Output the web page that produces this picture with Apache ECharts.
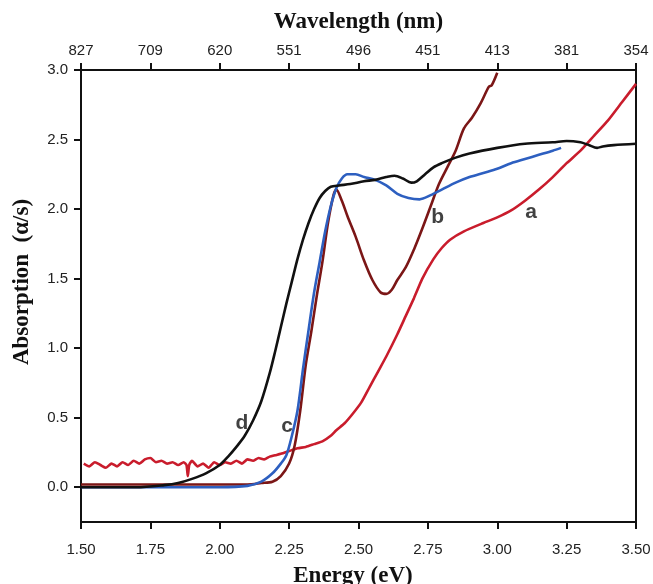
<!DOCTYPE html>
<html>
<head>
<meta charset="utf-8">
<script src="https://cdn.jsdelivr.net/npm/echarts@6/dist/echarts.min.js"></script>
<style>
  html, body { margin: 0; padding: 0; background: #fff; }
  #chart { width: 653px; height: 584px; }
</style>
</head>
<body>
<div id="chart"></div>
<script>
// Energy axis ticks (eV) and the matching wavelength ticks (nm)
const energyTicks = [1.50, 1.75, 2.00, 2.25, 2.50, 2.75, 3.00, 3.25, 3.50];
const wavelengthTicks = [827, 709, 620, 551, 496, 451, 413, 381, 354];
const absorptionTicks = [0.0, 0.5, 1.0, 1.5, 2.0, 2.5, 3.0];

// Sample a
const aEnergy = [1.51, 1.53, 1.55, 1.57, 1.59, 1.61, 1.63, 1.65, 1.67, 1.69, 1.71, 1.73, 1.75, 1.77, 1.79,
  1.81, 1.83, 1.85, 1.87, 1.88, 1.885, 1.89, 1.90, 1.92, 1.94, 1.96, 1.98, 2.00, 2.02, 2.04, 2.06, 2.08,
  2.10, 2.12, 2.14, 2.16, 2.18, 2.20, 2.22, 2.25, 2.28, 2.31, 2.34, 2.37, 2.40, 2.42, 2.45, 2.48, 2.51,
  2.54, 2.57, 2.60, 2.64, 2.67, 2.70, 2.73, 2.77, 2.80, 2.83, 2.88, 2.95, 3.00, 3.05, 3.10, 3.15, 3.20,
  3.25, 3.30, 3.35, 3.40, 3.45, 3.50];
const aAbs = [0.17, 0.15, 0.18, 0.16, 0.14, 0.17, 0.15, 0.18, 0.16, 0.19, 0.17, 0.20, 0.21, 0.18, 0.19,
  0.17, 0.18, 0.16, 0.18, 0.16, 0.08, 0.16, 0.19, 0.15, 0.17, 0.14, 0.18, 0.16, 0.18, 0.17, 0.19, 0.17,
  0.20, 0.19, 0.21, 0.20, 0.22, 0.23, 0.24, 0.26, 0.28, 0.29, 0.31, 0.33, 0.37, 0.41, 0.46, 0.53, 0.61,
  0.72, 0.83, 0.94, 1.10, 1.23, 1.36, 1.50, 1.64, 1.72, 1.78, 1.84, 1.90, 1.94, 1.99, 2.06, 2.14, 2.23,
  2.33, 2.42, 2.53, 2.64, 2.77, 2.90];

// Sample b
const bEnergy = [1.50, 2.10, 2.15, 2.19, 2.22, 2.25, 2.27, 2.29, 2.31, 2.33, 2.35, 2.37, 2.39, 2.41, 2.42,
  2.44, 2.46, 2.49, 2.52, 2.55, 2.58, 2.60, 2.62, 2.64, 2.67, 2.70, 2.73, 2.76, 2.79, 2.82, 2.85, 2.88,
  2.91, 2.94, 2.97, 2.98, 3.00];
const bAbs = [0.02, 0.02, 0.03, 0.04, 0.08, 0.17, 0.30, 0.55, 0.88, 1.12, 1.38, 1.62, 1.90, 2.10, 2.14,
  2.06, 1.95, 1.80, 1.63, 1.49, 1.40, 1.39, 1.42, 1.49, 1.58, 1.71, 1.86, 2.02, 2.18, 2.30, 2.42, 2.58,
  2.66, 2.76, 2.88, 2.89, 2.98];

// Sample c
const cEnergy = [1.50, 2.00, 2.10, 2.15, 2.19, 2.22, 2.24, 2.26, 2.28, 2.30, 2.32, 2.34, 2.36, 2.38, 2.40,
  2.42, 2.44, 2.46, 2.49, 2.52, 2.56, 2.60, 2.64, 2.68, 2.72, 2.76, 2.80, 2.85, 2.90, 2.95, 3.00, 3.05,
  3.10, 3.15, 3.20, 3.23];
const cAbs = [0.0, 0.0, 0.01, 0.04, 0.10, 0.17, 0.23, 0.37, 0.55, 0.85, 1.13, 1.40, 1.62, 1.84, 2.02,
  2.15, 2.22, 2.25, 2.25, 2.23, 2.21, 2.17, 2.11, 2.08, 2.07, 2.10, 2.14, 2.19, 2.23, 2.26, 2.29, 2.33,
  2.36, 2.39, 2.42, 2.44];

// Sample d
const dEnergy = [1.50, 1.70, 1.80, 1.85, 1.90, 1.95, 2.00, 2.03, 2.06, 2.09, 2.12, 2.15, 2.18, 2.20, 2.22,
  2.24, 2.26, 2.28, 2.30, 2.32, 2.34, 2.36, 2.38, 2.40, 2.43, 2.47, 2.52, 2.56, 2.60, 2.63, 2.66, 2.69,
  2.71, 2.74, 2.77, 2.80, 2.85, 2.90, 3.00, 3.10, 3.20, 3.25, 3.30, 3.33, 3.36, 3.38, 3.42, 3.50];
const dAbs = [0.0, 0.0, 0.015, 0.03, 0.06, 0.10, 0.16, 0.22, 0.29, 0.37, 0.48, 0.62, 0.82, 0.98, 1.15,
  1.32, 1.48, 1.64, 1.78, 1.90, 2.00, 2.08, 2.13, 2.16, 2.17, 2.18, 2.20, 2.21, 2.23, 2.24, 2.22, 2.19,
  2.20, 2.25, 2.30, 2.33, 2.37, 2.40, 2.44, 2.47, 2.48, 2.49, 2.48, 2.46, 2.44, 2.45, 2.46, 2.47];

// Curve tags and where they sit (eV, absorption)
const tagNames = ['a', 'b', 'c', 'd'];
const tagEnergy = [3.122, 2.785, 2.243, 2.080];
const tagAbs = [1.98, 1.94, 0.44, 0.46];

const zip = (xs, ys) => xs.map((x, i) => [x, ys[i]]);

const tickFont = { fontFamily: 'Liberation Sans, Arial, sans-serif', fontSize: 15, color: '#222' };
const titleFont = { fontFamily: 'Liberation Serif, Times New Roman, serif', fontSize: 23, fontWeight: 'bold', color: '#111' };
const axisLine = { show: true, onZero: false, lineStyle: { color: '#111', width: 2 } };
const tickStyle = { color: '#111', width: 2 };

const chart = echarts.init(document.getElementById('chart'), null, { renderer: 'canvas' });

function lineSeries(name, data, color, z, smooth) {
  return {
    name, type: 'line', data, showSymbol: false, symbol: 'none',
    smooth, z,
    lineStyle: { color, width: 2.6 },
    animation: false
  };
}

const tagSeries = {
  type: 'scatter', symbolSize: 0, z: 10, silent: true, animation: false,
  data: tagNames.map((n, i) => ({ name: n, value: [tagEnergy[i], tagAbs[i]] })),
  label: {
    show: true, position: 'inside', formatter: p => p.name,
    fontFamily: 'Liberation Sans, Arial, sans-serif', fontSize: 21, fontWeight: 'bold', color: '#111'
  }
};

chart.setOption({
  animation: false,
  grid: { left: 81, right: 17, top: 70, bottom: 62, containLabel: false, outerBoundsMode: 'none' },
  xAxis: [
    {
      type: 'value', position: 'bottom', min: 1.5, max: 3.5, interval: 0.25,
      name: 'Energy (eV)', nameLocation: 'middle', nameGap: 43,
      nameTextStyle: Object.assign({ padding: [0, 11, 0, 0] }, titleFont),
      axisLine, splitLine: { show: false },
      axisTick: { show: true, inside: false, length: 7, lineStyle: tickStyle },
      axisLabel: Object.assign({ margin: 20, formatter: v => v.toFixed(2) }, tickFont)
    },
    {
      type: 'value', position: 'top', min: 1.5, max: 3.5, interval: 0.25,
      name: 'Wavelength (nm)', nameLocation: 'middle', nameGap: 36, nameTextStyle: titleFont,
      axisLine, splitLine: { show: false },
      axisTick: { show: true, inside: false, length: 7, lineStyle: tickStyle },
      axisLabel: Object.assign({
        margin: 12,
        formatter: v => {
          const i = energyTicks.findIndex(e => Math.abs(e - v) < 1e-6);
          return i >= 0 ? String(wavelengthTicks[i]) : '';
        }
      }, tickFont)
    }
  ],
  yAxis: [
    {
      type: 'value', position: 'left', min: -0.25, max: 3.0,
      name: 'Absorption  (α/s)', nameLocation: 'middle', nameGap: 47, nameRotate: 90,
      nameTextStyle: Object.assign({ padding: [0, 0, 0, 28] }, titleFont),
      axisLine, splitLine: { show: false },
      axisTick: { show: true, inside: false, length: 7, customValues: absorptionTicks, lineStyle: tickStyle },
      axisLabel: Object.assign({ margin: 13, customValues: absorptionTicks, formatter: v => v.toFixed(1) }, tickFont)
    },
    {
      type: 'value', position: 'right', min: -0.25, max: 3.0,
      axisLine, axisTick: { show: false }, axisLabel: { show: false }, splitLine: { show: false }
    }
  ],
  series: [
    lineSeries('a', zip(aEnergy, aAbs), '#c91c2c', 2, 0.2),
    lineSeries('b', zip(bEnergy, bAbs), '#7b1616', 3, 0.3),
    lineSeries('c', zip(cEnergy, cAbs), '#2d5fc0', 4, 0.3),
    lineSeries('d', zip(dEnergy, dAbs), '#111111', 5, 0.3),
    tagSeries
  ]
});
</script>
</body>
</html>
